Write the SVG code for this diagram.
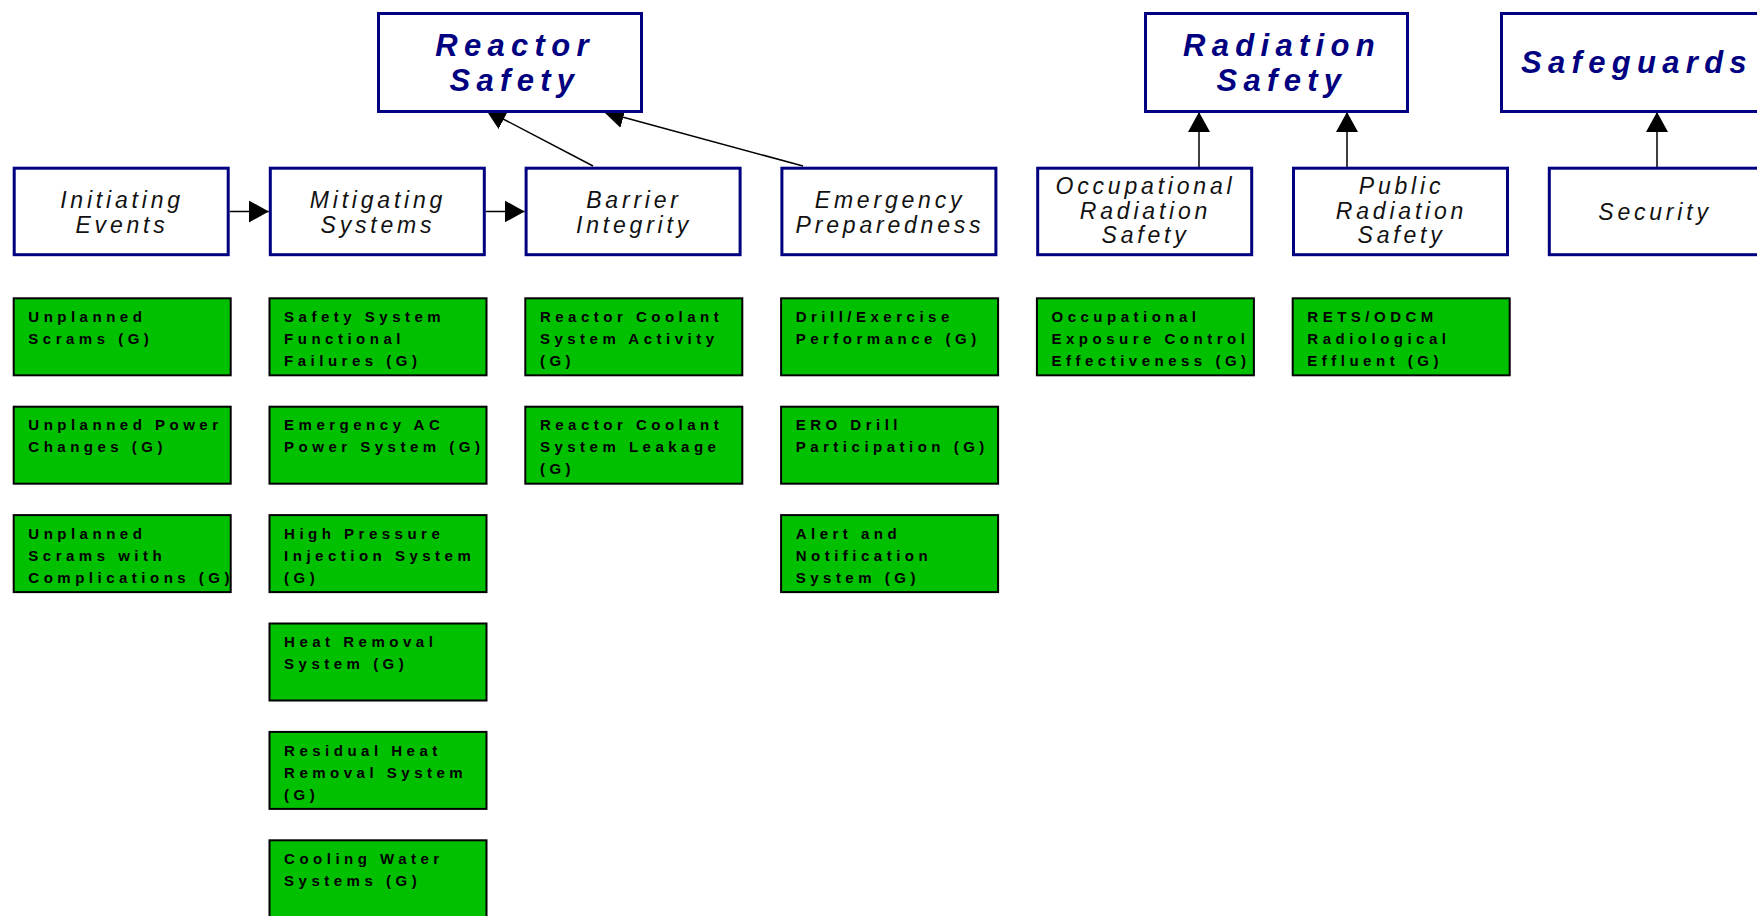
<svg xmlns="http://www.w3.org/2000/svg" width="1757" height="916" viewBox="0 0 1757 916">
<style>
.hdr rect{fill:#fff;stroke:#000080;stroke-width:3}
.hdr text{font-family:"Liberation Sans",Arial,sans-serif;font-weight:bold;font-style:italic;font-size:31px;fill:#000080;letter-spacing:6.3px;text-anchor:middle}
.cat rect{fill:#fff;stroke:#000080;stroke-width:3}
.cat text{font-family:"Liberation Sans",Arial,sans-serif;font-style:italic;font-size:23px;fill:#111;letter-spacing:3.8px;text-anchor:middle}
.pi rect{fill:#00C000;stroke:#000;stroke-width:2}
.pi text{font-family:"Liberation Sans",Arial,sans-serif;font-weight:bold;font-size:15px;fill:#000;letter-spacing:4.5px}
.conn line{stroke:#000;stroke-width:1.5;marker-end:url(#ah)}
</style>
<defs>
<marker id="ah" markerUnits="userSpaceOnUse" markerWidth="20" markerHeight="22" viewBox="0 0 20 22" refX="20" refY="11" orient="auto">
<path d="M0,0 L20,11 L0,22 Z" fill="#000"/>
</marker>
</defs>
<rect width="1757" height="916" fill="#fff"/>
<g id="connectors" class="conn">
<line x1="229.7" y1="211.5" x2="268.8" y2="211.5"/>
<line x1="485.8" y1="211.5" x2="524.6" y2="211.5"/>
<line x1="593" y1="166" x2="486" y2="110"/>
<line x1="803" y1="166" x2="604" y2="112"/>
<line x1="1199" y1="167" x2="1199" y2="112"/>
<line x1="1347" y1="167" x2="1347" y2="112"/>
<line x1="1657" y1="167" x2="1657" y2="112"/>
</g>
<g id="reactor-safety" class="hdr"><rect x="378.5" y="13.5" width="263" height="98"/><text x="515" y="55.5">Reactor</text><text x="515" y="91">Safety</text></g>
<g id="radiation-safety" class="hdr"><rect x="1145.5" y="13.5" width="262" height="98"/><text x="1282" y="55.5">Radiation</text><text x="1282" y="91">Safety</text></g>
<g id="safeguards" class="hdr"><rect x="1501.5" y="13.5" width="263" height="98"/><text x="1637" y="72.5">Safeguards</text></g>

<g id="initiating-events" class="cat"><rect x="14.2" y="168.2" width="214" height="86.5"/><text x="122" y="207.5">Initiating</text><text x="122" y="232.5">Events</text></g>
<g id="mitigating-systems" class="cat"><rect x="270.3" y="168.2" width="214" height="86.5"/><text x="378" y="207.5">Mitigating</text><text x="378" y="232.5">Systems</text></g>
<g id="barrier-integrity" class="cat"><rect x="526.1" y="168.2" width="214" height="86.5"/><text x="634" y="207.5">Barrier</text><text x="634" y="232.5">Integrity</text></g>
<g id="emergency-preparedness" class="cat"><rect x="781.9" y="168.2" width="214" height="86.5"/><text x="890" y="207.5">Emergency</text><text x="890" y="232.5">Preparedness</text></g>
<g id="occupational-radiation-safety" class="cat"><rect x="1037.7" y="168.2" width="214" height="86.5"/><text x="1145.5" y="194">Occupational</text><text x="1145.5" y="218.5">Radiation</text><text x="1145.5" y="243">Safety</text></g>
<g id="public-radiation-safety" class="cat"><rect x="1293.5" y="168.2" width="214" height="86.5"/><text x="1401.5" y="194">Public</text><text x="1401.5" y="218.5">Radiation</text><text x="1401.5" y="243">Safety</text></g>
<g id="security" class="cat"><rect x="1549.3" y="168.2" width="214" height="86.5"/><text x="1655" y="220">Security</text></g>

<g id="unplanned-scrams" class="pi"><rect x="13.7" y="298.3" width="217" height="77"/><text x="28.3" y="322">Unplanned</text><text x="28.3" y="344">Scrams (G)</text></g>
<g id="unplanned-power-changes" class="pi"><rect x="13.7" y="406.7" width="217" height="77"/><text x="28.3" y="430.4">Unplanned Power</text><text x="28.3" y="452.4">Changes (G)</text></g>
<g id="unplanned-scrams-complications" class="pi"><rect x="13.7" y="515.1" width="217" height="77"/><text x="28.3" y="538.8">Unplanned</text><text x="28.3" y="560.8">Scrams with</text><text x="28.3" y="582.8">Complications (G)</text></g>

<g id="safety-system-functional-failures" class="pi"><rect x="269.5" y="298.3" width="217" height="77"/><text x="284.1" y="322">Safety System</text><text x="284.1" y="344">Functional</text><text x="284.1" y="366">Failures (G)</text></g>
<g id="emergency-ac-power" class="pi"><rect x="269.5" y="406.7" width="217" height="77"/><text x="284.1" y="430.4">Emergency AC</text><text x="284.1" y="452.4">Power System (G)</text></g>
<g id="hpi-system" class="pi"><rect x="269.5" y="515.1" width="217" height="77"/><text x="284.1" y="538.8">High Pressure</text><text x="284.1" y="560.8">Injection System</text><text x="284.1" y="582.8">(G)</text></g>
<g id="heat-removal-system" class="pi"><rect x="269.5" y="623.5" width="217" height="77"/><text x="284.1" y="647.2">Heat Removal</text><text x="284.1" y="669.2">System (G)</text></g>
<g id="residual-heat-removal" class="pi"><rect x="269.5" y="731.9" width="217" height="77"/><text x="284.1" y="755.6">Residual Heat</text><text x="284.1" y="777.6">Removal System</text><text x="284.1" y="799.6">(G)</text></g>
<g id="cooling-water-systems" class="pi"><rect x="269.5" y="840.3" width="217" height="77"/><text x="284.1" y="864">Cooling Water</text><text x="284.1" y="886">Systems (G)</text></g>

<g id="rcs-activity" class="pi"><rect x="525.3" y="298.3" width="217" height="77"/><text x="539.9" y="322">Reactor Coolant</text><text x="539.9" y="344">System Activity</text><text x="539.9" y="366">(G)</text></g>
<g id="rcs-leakage" class="pi"><rect x="525.3" y="406.7" width="217" height="77"/><text x="539.9" y="430.4">Reactor Coolant</text><text x="539.9" y="452.4">System Leakage</text><text x="539.9" y="474.4">(G)</text></g>

<g id="drill-exercise-performance" class="pi"><rect x="781.1" y="298.3" width="217" height="77"/><text x="795.7" y="322">Drill/Exercise</text><text x="795.7" y="344">Performance (G)</text></g>
<g id="ero-drill-participation" class="pi"><rect x="781.1" y="406.7" width="217" height="77"/><text x="795.7" y="430.4">ERO Drill</text><text x="795.7" y="452.4">Participation (G)</text></g>
<g id="alert-notification-system" class="pi"><rect x="781.1" y="515.1" width="217" height="77"/><text x="795.7" y="538.8">Alert and</text><text x="795.7" y="560.8">Notification</text><text x="795.7" y="582.8">System (G)</text></g>

<g id="occupational-exposure-control" class="pi"><rect x="1036.9" y="298.3" width="217" height="77"/><text x="1051.5" y="322">Occupational</text><text x="1051.5" y="344">Exposure Control</text><text x="1051.5" y="366">Effectiveness (G)</text></g>
<g id="rets-odcm" class="pi"><rect x="1292.7" y="298.3" width="217" height="77"/><text x="1307.3" y="322">RETS/ODCM</text><text x="1307.3" y="344">Radiological</text><text x="1307.3" y="366">Effluent (G)</text></g>
</svg>
